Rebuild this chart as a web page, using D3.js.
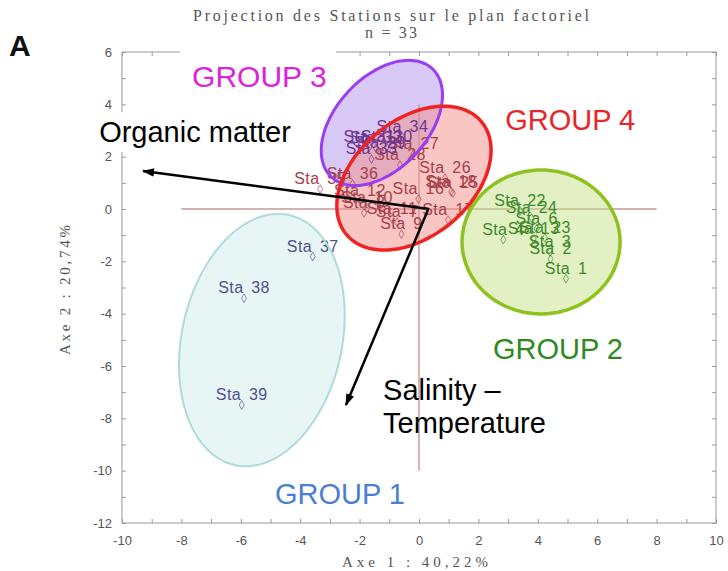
<!DOCTYPE html>
<html>
<head>
<meta charset="utf-8">
<script src="https://cdn.jsdelivr.net/npm/d3@7"></script>
<style>
  html, body { margin: 0; padding: 0; background: #fff; }
  svg { display: block; }
</style>
</head>
<body>
<svg id="chart" width="728" height="571"></svg>
<script>
// ---- Station scores on the first factorial plane ----
const stationNames = ["Sta 1","Sta 2","Sta 3","Sta 4","Sta 6","Sta 7","Sta 8","Sta 9","Sta 10","Sta 11",
  "Sta 12","Sta 13","Sta 16","Sta 17","Sta 18","Sta 22","Sta 23","Sta 24","Sta 25","Sta 26",
  "Sta 27","Sta 28","Sta 29","Sta 30","Sta 31","Sta 32","Sta 33","Sta 34","Sta 35","Sta 36",
  "Sta 37","Sta 38","Sta 39"];
const axis1Scores = [4.95, 4.43, 4.41, 2.84, 3.96, -0.74, -1.85, -0.59, -1.75, -0.91,
  -1.99, 3.86, -0.02, 0.98, 1.08, 3.40, 4.24, 3.79, 1.14, 0.88,
  -0.19, -0.64, -1.31, -1.09, -1.67, -1.45, -1.60, -0.56, -3.33, -2.24,
  -3.58, -5.89, -5.97];
const axis2Scores = [-2.66, -1.91, -1.64, -1.17, -0.76, -0.50, -0.15, -0.96, 0.04, -0.38,
  0.31, -1.15, 0.38, -0.42, 0.65, -0.08, -1.10, -0.34, 0.61, 1.18,
  2.10, 1.68, 2.14, 2.37, 2.37, 2.33, 1.91, 2.75, 0.76, 0.96,
  -1.82, -3.41, -7.49];
const stationGroup = [2,2,2,2,2,4,4,4,4,4,
  4,2,4,4,4,2,2,2,4,4,
  4,4,3,3,3,3,3,3,4,4,
  1,1,1];

// ---- Groups and their ellipses (centre, two conjugate semi-axes, factor units) ----
const groupNames   = ["GROUP 1", "GROUP 2", "GROUP 3", "GROUP 4"];
const ellipseCX    = [-5.29, 4.11, -1.25, -0.17];
const ellipseCY    = [-5.01, -1.26, 3.29, 1.18];
const ellipseAxisA = [[0.90, 4.78], [2.66, 0.00], [1.70, 2.07], [2.27, 2.16]];
const ellipseAxisB = [[2.64, -0.63], [0.00, 2.75], [1.13, -1.20], [1.26, -1.70]];

// ---- Environmental variable vectors ----
const vectorNames = ["Organic matter", "Salinity – Temperature"];
const vectorFrom  = [[0.34, 0.00], [0.30, -0.04]];
const vectorTo    = [[-9.29, 1.45], [-2.46, -7.49]];

// ---- Axis ticks ----
const xTicks = [-10, -8, -6, -4, -2, 0, 2, 4, 6, 8, 10];
const xTickLabels = ["-10", "-8", "-6", "-4", "-2", "0", "2", "4", "6", "8", "10"];
const yTicks = [-12, -10, -8, -6, -4, -2, 0, 2, 4, 6];
const yTickLabels = ["-12", "-10", "-8", "-6", "-4", "-2", "0", "2", "4", "6"];

// ---- Styling ----
const labelColor  = {1: "#505090", 2: "#3c8a28", 3: "#6c3590", 4: "#a5404a"};
const ellipseFill = ["#c9e8e8", "#c5e189", "#af91eb", "#f38d89"];
const ellipseOpacity = [0.45, 0.5, 0.5, 0.5];
const ellipseLine = ["#b0dadc", "#8dc21f", "#9b3df0", "#ee2424"];
const ellipseLineW = [2, 3.5, 3, 3.5];
const groupTextColor = ["#4a7fd4", "#2c8a1e", "#dd22dd", "#e8262a"];

const sans = "'Liberation Sans', Arial, sans-serif";
const serif = "'Liberation Serif', 'Times New Roman', serif";

const svg = d3.select("#chart");
const x = d3.scaleLinear().domain([-10, 10]).range([122, 716]);
const y = d3.scaleLinear().domain([-12, 6]).range([523, 52]);

// Title
svg.append("text").attr("x", 391).attr("y", 21).attr("text-anchor", "middle")
  .attr("font-family", serif).attr("font-size", 16).attr("fill", "#555")
  .attr("textLength", 396).attr("lengthAdjust", "spacing")
  .text("Projection des Stations sur le plan factoriel");
svg.append("text").attr("x", 391).attr("y", 38).attr("text-anchor", "middle")
  .attr("font-family", serif).attr("font-size", 16).attr("fill", "#555")
  .attr("textLength", 52).attr("lengthAdjust", "spacing")
  .text("n = 33");

// Panel letter
svg.append("text").attr("x", 9).attr("y", 56)
  .attr("font-family", sans).attr("font-weight", "bold").attr("font-size", 30)
  .attr("fill", "#111").text("A");

// Frame
svg.append("rect").attr("x", x(-10)).attr("y", y(6))
  .attr("width", x(10) - x(-10)).attr("height", y(-12) - y(6))
  .attr("fill", "none").attr("stroke", "#9a9a9a").attr("stroke-width", 1);

// Minor inner ticks on all four sides
const unitX = d3.range(-10, 11), unitY = d3.range(-12, 7);
const tickG = svg.append("g").attr("class", "minor-ticks");
tickG.append("g").attr("transform", `translate(0,${y(-12)})`)
  .call(d3.axisBottom(x).tickValues(unitX).tickSize(-4).tickSizeOuter(0).tickFormat(""));
tickG.append("g").attr("transform", `translate(0,${y(6)})`)
  .call(d3.axisTop(x).tickValues(unitX).tickSize(-4).tickSizeOuter(0).tickFormat(""));
tickG.append("g").attr("transform", `translate(${x(-10)},0)`)
  .call(d3.axisLeft(y).tickValues(unitY).tickSize(-4).tickSizeOuter(0).tickFormat(""));
tickG.append("g").attr("transform", `translate(${x(10)},0)`)
  .call(d3.axisRight(y).tickValues(unitY).tickSize(-4).tickSizeOuter(0).tickFormat(""));
tickG.selectAll(".domain").remove();
tickG.selectAll(".tick line").attr("stroke", "#9a9a9a");

// Tick labels
const xAxisG = svg.append("g").attr("transform", `translate(0,${y(-12)})`)
  .call(d3.axisBottom(x).tickValues(xTicks).tickSize(0).tickPadding(13)
    .tickFormat((d, i) => xTickLabels[i]));
const yAxisG = svg.append("g").attr("transform", `translate(${x(-10)},0)`)
  .call(d3.axisLeft(y).tickValues(yTicks).tickSize(0).tickPadding(10)
    .tickFormat((d, i) => yTickLabels[i]));
[xAxisG, yAxisG].forEach(g => {
  g.select(".domain").remove();
  g.selectAll("text").attr("font-family", sans).attr("font-size", 13).attr("fill", "#555");
});

// Axis titles
svg.append("text").attr("x", 415).attr("y", 567).attr("text-anchor", "middle")
  .attr("font-family", serif).attr("font-size", 15).attr("fill", "#555")
  .attr("textLength", 146).attr("lengthAdjust", "spacing")
  .text("Axe 1 : 40,22%");
svg.append("text").attr("transform", "translate(70,290) rotate(-90)")
  .attr("text-anchor", "middle")
  .attr("font-family", serif).attr("font-size", 15).attr("fill", "#555")
  .attr("textLength", 130).attr("lengthAdjust", "spacing")
  .text("Axe 2 : 20,74%");

// Reference lines through the origin
const refG = svg.append("g").attr("stroke", "#c29a98").attr("stroke-width", 1.4);
refG.append("line").attr("x1", x(0)).attr("x2", x(0)).attr("y1", y(4)).attr("y2", y(-10));
refG.append("line").attr("x1", x(-8)).attr("x2", x(8)).attr("y1", y(0)).attr("y2", y(0));

// Group ellipses
function ellipsePath(i) {
  const pts = d3.range(0, 360, 3).map(t => {
    const a = t * Math.PI / 180, c = Math.cos(a), s = Math.sin(a);
    return [ellipseCX[i] + ellipseAxisA[i][0] * c + ellipseAxisB[i][0] * s,
            ellipseCY[i] + ellipseAxisA[i][1] * c + ellipseAxisB[i][1] * s];
  });
  return d3.line().x(d => x(d[0])).y(d => y(d[1])).curve(d3.curveCardinalClosed)(pts);
}
const groupIdx = d3.range(groupNames.length);
svg.append("g").selectAll("path").data(groupIdx).join("path")
  .attr("d", ellipsePath).attr("fill", i => ellipseFill[i])
  .attr("fill-opacity", i => ellipseOpacity[i]).attr("stroke", "none");

// Stations: marker + label
const stationIdx = d3.range(stationNames.length);
const ptG = svg.append("g");
ptG.selectAll("path").data(stationIdx).join("path")
  .attr("transform", i => `translate(${x(axis1Scores[i])},${y(axis2Scores[i])})`)
  .attr("d", d3.symbol(d3.symbolDiamond, 22))
  .attr("fill", "none").attr("stroke", i => labelColor[stationGroup[i]])
  .attr("stroke-opacity", 0.65).attr("stroke-width", 1);
ptG.selectAll("text").data(stationIdx).join("text")
  .attr("x", i => x(axis1Scores[i]))
  .attr("y", i => y(axis2Scores[i]) - 5)
  .attr("text-anchor", "middle")
  .attr("font-family", sans).attr("font-size", 16)
  .attr("letter-spacing", 0.4).attr("word-spacing", 3)
  .attr("fill", i => labelColor[stationGroup[i]])
  .text(i => stationNames[i]);

// Ellipse outlines on top
svg.append("g").selectAll("path").data(groupIdx).join("path")
  .attr("d", ellipsePath).attr("fill", "none")
  .attr("stroke", i => ellipseLine[i]).attr("stroke-width", i => ellipseLineW[i]);

// Variable vectors
const defs = svg.append("defs");
defs.append("marker").attr("id", "head")
  .attr("viewBox", "0 0 12 10").attr("refX", 11).attr("refY", 5)
  .attr("markerWidth", 12).attr("markerHeight", 10)
  .attr("markerUnits", "userSpaceOnUse").attr("orient", "auto")
  .append("path").attr("d", "M0,0.8 L12,5 L0,9.2 Z").attr("fill", "#000");
svg.append("g").selectAll("line").data(d3.range(vectorNames.length)).join("line")
  .attr("x1", i => x(vectorFrom[i][0])).attr("y1", i => y(vectorFrom[i][1]))
  .attr("x2", i => x(vectorTo[i][0])).attr("y2", i => y(vectorTo[i][1]))
  .attr("stroke", "#000").attr("stroke-width", 2.5)
  .attr("marker-end", "url(#head)");

// Annotation boxes and texts
svg.append("rect").attr("x", 180).attr("y", 44).attr("width", 156).attr("height", 52).attr("fill", "#fff");
svg.append("rect").attr("x", 93).attr("y", 112).attr("width", 207).attr("height", 40).attr("fill", "#fff");

const big = (tx, ty, txt, col) => svg.append("text")
  .attr("x", x(tx)).attr("y", y(ty))
  .attr("font-family", sans).attr("font-size", 29).attr("fill", col).text(txt);

big(-7.64, 4.66, groupNames[2], groupTextColor[2]).attr("font-size", 30);
big(2.90, 3.02, groupNames[3], groupTextColor[3]);
big(2.49, -5.73, groupNames[1], groupTextColor[1]);
big(-4.85, -11.27, groupNames[0], groupTextColor[0]);
big(-10.77, 2.56, vectorNames[0], "#000");
big(-1.21, -7.30, "Salinity –", "#000");
big(-1.21, -8.56, "Temperature", "#000");
</script>
</body>
</html>
